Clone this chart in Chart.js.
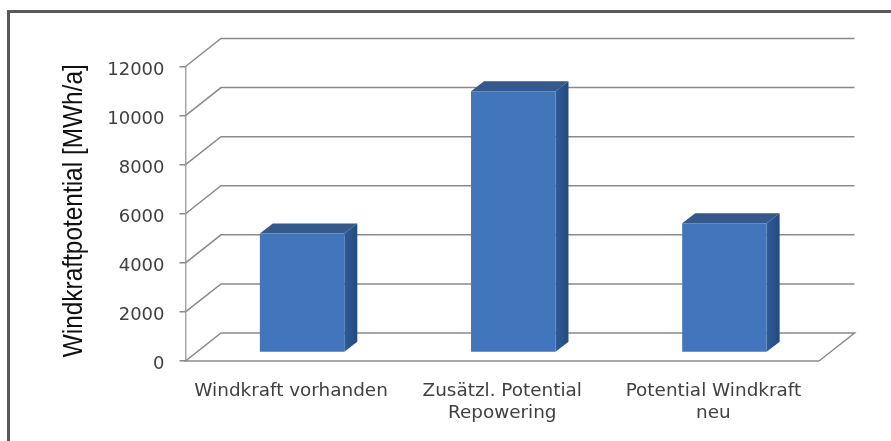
<!DOCTYPE html>
<html><head><meta charset="utf-8">
<style>
html,body{margin:0;padding:0;background:#fff;overflow:hidden}
#wrap{position:relative;width:891px;height:441px}
#frame{position:absolute;left:7px;top:10px;width:884px;height:431px;border-top:3px solid #595959;border-left:3px solid #595959;box-sizing:border-box;pointer-events:none}
</style>
<script src="https://cdn.jsdelivr.net/npm/chart.js@4"></script>
</head><body>
<div id="wrap"><canvas id="c" width="891" height="441"></canvas><div id="frame"></div></div>
<script>
const categories = [["Windkraft vorhanden"], ["Zusätzl. Potential", "Repowering"], ["Potential Windkraft", "neu"]];
const potential = [4850, 10650, 5270];
const yTicks = [0, 2000, 4000, 6000, 8000, 10000, 12000];
const axisTitle = "Windkraftpotential [MWh/a]";

const FLOOR_DX = 35.5, FLOOR_DY = -28;
const BAR_DX = 11, BAR_DY = -8.5;
const DEPTH_DX = 13, DEPTH_DY = -10;

const pseudo3d = {
  id: 'pseudo3d',
  beforeDatasetsDraw(chart) {
    const {ctx, scales: {x, y}} = chart;
    ctx.save();
    ctx.strokeStyle = '#8a8a8a';
    ctx.lineWidth = 1.5;
    yTicks.forEach(v => {
      const py = y.getPixelForValue(v);
      ctx.beginPath();
      if (v === 0) ctx.moveTo(x.right, py), ctx.lineTo(x.left, py);
      else ctx.moveTo(x.left, py);
      ctx.lineTo(x.left + FLOOR_DX, py + FLOOR_DY);
      ctx.lineTo(x.right + FLOOR_DX, py + FLOOR_DY);
      if (v === 0) ctx.lineTo(x.right, py);
      ctx.stroke();
    });
    ctx.restore();
  },
  beforeDatasetDraw(chart) {
    const {ctx} = chart;
    const meta = chart.getDatasetMeta(0);
    ctx.save();
    ctx.translate(BAR_DX, BAR_DY);
    meta.data.forEach(bar => {
      const l = bar.x - bar.width / 2, r = bar.x + bar.width / 2, t = bar.y, b = bar.base;
      ctx.fillStyle = '#34598a';
      ctx.beginPath();
      ctx.moveTo(l, t);
      ctx.lineTo(l + DEPTH_DX, t + DEPTH_DY);
      ctx.lineTo(r + DEPTH_DX, t + DEPTH_DY);
      ctx.lineTo(r, t);
      ctx.closePath();
      ctx.fill();
      const g = ctx.createLinearGradient(r, 0, r + DEPTH_DX, 0);
      g.addColorStop(0, '#2e5c97');
      g.addColorStop(1, '#254a7c');
      ctx.fillStyle = g;
      ctx.beginPath();
      ctx.moveTo(r, t);
      ctx.lineTo(r + DEPTH_DX, t + DEPTH_DY);
      ctx.lineTo(r + DEPTH_DX, b + DEPTH_DY);
      ctx.lineTo(r, b);
      ctx.closePath();
      ctx.fill();
    });
  },
  afterDatasetDraw(chart) { chart.ctx.restore(); },
  afterDraw(chart) {
    const {ctx, scales: {y}} = chart;
    ctx.save();
    ctx.font = '28px "Liberation Sans"';
    ctx.fillStyle = '#111';
    ctx.textAlign = 'center';
    ctx.textBaseline = 'middle';
    ctx.translate(74, (y.top + y.bottom) / 2 - 3);
    ctx.rotate(-Math.PI / 2);
    ctx.scale(293 / ctx.measureText(axisTitle).width, 1);
    ctx.fillText(axisTitle, 0, 0);
    ctx.restore();
  }
};

function frontFill(c) {
  const el = c.element;
  if (!el || !el.width) return '#4176bd';
  const l = el.x - el.width / 2, r = el.x + el.width / 2;
  const g = c.chart.ctx.createLinearGradient(l, 0, r, 0);
  g.addColorStop(0, '#3f78c2');
  g.addColorStop(0.5, '#4479bb');
  g.addColorStop(1, '#3a6fb5');
  return g;
}

new Chart(document.getElementById('c'), {
  type: 'bar',
  data: { labels: categories, datasets: [{
    data: potential,
    backgroundColor: frontFill,
    borderWidth: 0,
    barPercentage: 0.8,
    categoryPercentage: 0.5,
    clip: false
  }]},
  plugins: [pseudo3d],
  options: {
    responsive: false,
    animation: false,
    layout: { padding: { top: 66.5, right: 72, left: 0, bottom: 0 } },
    plugins: { legend: { display: false }, tooltip: { enabled: false } },
    scales: {
      x: {
        grid: { display: false },
        border: { display: false },
        ticks: { color: '#404040', font: { family: 'DejaVu Sans', size: 18.4, lineHeight: 1.2 }, padding: 11, maxRotation: 0, autoSkip: false },
        afterFit(s) { s.height = 80; }
      },
      y: {
        min: 0, max: 12000,
        afterBuildTicks(s) { s.ticks = yTicks.map(v => ({ value: v })); },
        grid: { drawOnChartArea: false, drawTicks: true, tickLength: 6, color: '#8a8a8a', lineWidth: 1.5 },
        border: { display: true, color: '#a6a6a6', width: 1.5 },
        ticks: { color: '#404040', font: { family: 'DejaVu Sans', size: 18 }, padding: 15, callback: v => String(v) },
        afterFit(s) {
          s.width = 185.5;
          if (!s._labelShifted && s._computeLabelItems) {
            const orig = s._computeLabelItems;
            s._computeLabelItems = function (area) {
              return orig.call(this, area).map(item => { item.textOffset += 3.5; return item; });
            };
            s._labelShifted = true;
          }
        }
      }
    }
  }
});
</script>
</body></html>
